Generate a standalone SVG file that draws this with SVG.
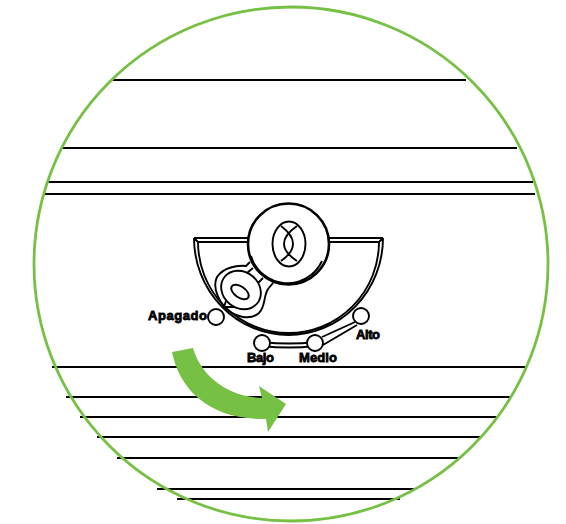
<svg xmlns="http://www.w3.org/2000/svg" width="566" height="524" viewBox="0 0 566 524">
<style>
.l{fill:none;stroke:#000;stroke-width:2}
.t{fill:none;stroke:#000;stroke-width:1.9;stroke-linejoin:round}
.f{fill:#fff;stroke:#000;stroke-width:1.9}
.x{font-family:"Liberation Sans",Arial,sans-serif;font-size:13px;font-weight:bold;fill:#000;stroke:#000;stroke-width:.8}
</style>
<rect width="566" height="524" fill="#fff"/>
<g id="lines">
<path class="l" d="M112 80H466M62 148H517M48 182H533M44 194H535M52 367H527M66 397H511M80 417H497M97 437H480M117 458H459M157 489H415M177 499H400"/>
</g>
<g id="dial">
<path class="t" d="M194 238H249M328 238H383M194 238A94.5 97 0 0 0 383 238M198 242H249M328 242H379M198 242A90.5 91 0 0 0 379 242M194 238L198 242M383 238L379 242"/>
<path class="t" d="M250 262L246 266C236 265 223 268 217 277C213 285 215 294 224 307C234 317 250 321 259 313C266 306 263 297 268 289L273 283"/>
<path class="t" d="M224 307L226 301M224 307H234M247 273L253 268M258 283L263 278"/>
<ellipse class="t" cx="241" cy="290" rx="21" ry="18" transform="rotate(40 241 290)"/>
<ellipse class="t" cx="240" cy="292" rx="10" ry="5.5" transform="rotate(35 240 292)"/>
</g>
<g id="knob">
<circle cx="288.5" cy="244" r="40.5" fill="#fff" stroke="#000" stroke-width="2.6"/>
<path class="t" d="M251 256A38 38 0 0 0 322 261"/>
<ellipse class="t" cx="289" cy="244" rx="16.500" ry="22.500"/>
<path class="t" d="M281 226Q305 244 281 261M297 226Q271 244 297 261"/>
</g>
<g id="switch">
<path class="t" d="M262 342C280 344 298 344 315 342M262 346C280 348 298 348 315 346M322 337L355 322M323 345L357 325"/>
</g>
<g id="node-apagado"><circle class="f" cx="216" cy="317" r="8"/><text class="x" x="148" y="320" textLength="59">Apagado</text></g>
<g id="node-bajo"><circle class="f" cx="262" cy="343" r="8"/><text class="x" x="247" y="362" textLength="27">Bajo</text></g>
<g id="node-medio"><circle class="f" cx="315" cy="343" r="8"/><text class="x" x="299" y="362" textLength="38">Medio</text></g>
<g id="node-alto"><circle class="f" cx="361" cy="316" r="8"/><text class="x" x="356" y="339" textLength="24">Alto</text></g>
<g id="arrow"><path fill="#76c043" d="M172 352L193 348C200 372 222 396 262 398L259 386L286 404L268 432L266 419C212 420 180 392 172 352Z"/></g>
<g id="ring"><circle cx="291" cy="264" r="257" fill="none" stroke="#76c043" stroke-width="2.8"/></g>
</svg>
